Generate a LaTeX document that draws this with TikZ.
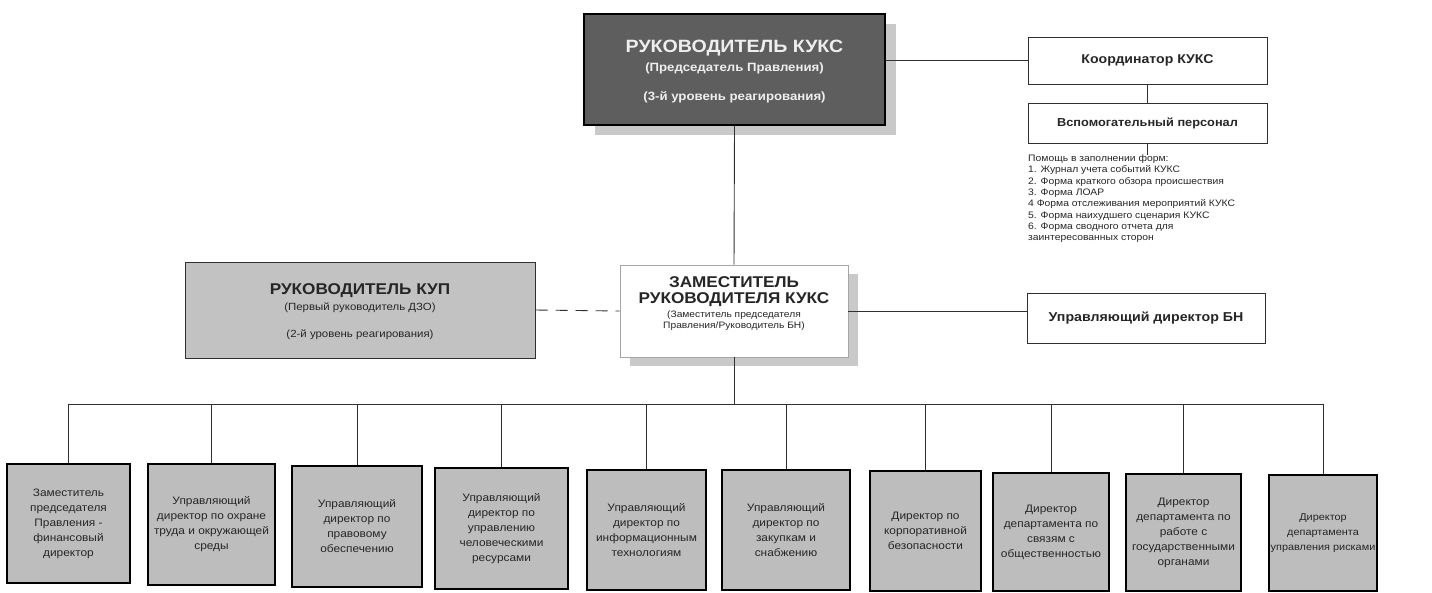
\documentclass[tikz,border=0pt]{standalone}
\usepackage{fontspec}
\setmainfont[FakeStretch=1.1]{Liberation Sans}
\usetikzlibrary{shadows,calc}
\definecolor{darkbox}{HTML}{5E5E5E}
\definecolor{toptext}{HTML}{EEEEEE}
\definecolor{shadowc}{HTML}{C9C9C9}
\definecolor{greybox}{HTML}{C2C2C2}
\definecolor{botbox}{HTML}{BDBDBD}
\definecolor{inkc}{HTML}{262626}
\definecolor{linec}{HTML}{303030}
\tikzset{
  boxbase/.style={rectangle, inner sep=0pt, anchor=center},
  topbox/.style={boxbase, fill=darkbox, draw=black, line width=1.8pt,
    drop shadow={shadow xshift=11pt, shadow yshift=-10pt, fill=shadowc, opacity=1}},
  whitebox/.style={boxbase, fill=white, draw=linec, line width=0.9pt},
  midbox/.style={boxbase, fill=white, draw=gray!70, line width=0.9pt,
    drop shadow={shadow xshift=10pt, shadow yshift=-9pt, fill=shadowc, opacity=1}},
  kupbox/.style={boxbase, fill=greybox, draw=linec, line width=1pt},
  subbox/.style={boxbase, fill=botbox, draw=black, line width=1.1pt, align=center,
    text=inkc, font=\fontsize{10.8}{15}\selectfont},
  conn/.style={draw=linec, line width=0.9pt},
  dashconn/.style={conn, dash pattern=on 12pt off 8pt},
  titletext/.style={inner sep=0pt, font=\bfseries\fontsize{17.8}{20}\selectfont, text=toptext},
  toptextsmall/.style={inner sep=0pt, font=\bfseries\fontsize{12}{14}\selectfont, text=toptext},
  bigtitle/.style={inner sep=0pt, font=\bfseries\fontsize{15.6}{19}\selectfont, text=inkc},
  smalltext/.style={inner sep=0pt, font=\fontsize{10.4}{13}\selectfont, text=inkc},
  midsmall/.style={inner sep=0pt, font=\fontsize{9.3}{11.5}\selectfont, text=inkc, align=center},
  boldlabel/.style={inner sep=0pt, font=\bfseries\fontsize{12.5}{14}\selectfont, text=inkc},
  listtext/.style={inner sep=0pt, font=\fontsize{9.4}{11.3}\selectfont, text=inkc, align=left, anchor=north west}
}
\begin{document}
\begin{tikzpicture}[x=1pt,y=-1pt]
\path[use as bounding box, fill=white] (0,0) rectangle (1432,592);

% top box
\node[topbox, minimum width=301pt, minimum height=111pt] (t) at (734.5,69.5) {};
\node[titletext] (t1) at ($(t.center)+(0,-21.5)$) {РУКОВОДИТЕЛЬ КУКС};
\node[toptextsmall] (t2) at ($(t.center)+(0,-1.5)$) {(Председатель Правления)};
\node[toptextsmall] (t3) at ($(t.center)+(0,27.5)$) {(3-й уровень реагирования)};

% right column
\node[whitebox, minimum width=239pt, minimum height=47pt] (k) at (1147.5,60.5) {};
\node[boldlabel, font=\bfseries\fontsize{12.8}{14}\selectfont] (k1) at (k.center) {Координатор КУКС};
\node[whitebox, minimum width=239pt, minimum height=40pt] (v) at (1147.5,123) {};
\node[boldlabel, font=\bfseries\fontsize{11.6}{14}\selectfont] (v1) at (v.center) {Вспомогательный персонал};
\node[listtext] (list) at (1028,154.5) {Помощь в заполнении форм:\\
1. Журнал учета событий КУКС\\
2. Форма краткого обзора происшествия\\
3. Форма ЛОАР\\
4 Форма отслеживания мероприятий КУКС\\
5. Форма наихудшего сценария КУКС\\
6. Форма сводного отчета для\\
заинтересованных сторон};

% left box
\node[kupbox, minimum width=350pt, minimum height=96pt] (l) at (360,310) {};
\node[bigtitle] (l1) at ($(l.center)+(0,-19)$) {РУКОВОДИТЕЛЬ КУП};
\node[smalltext] (l2) at ($(l.center)+(0,-2)$) {(Первый руководитель ДЗО)};
\node[smalltext] (l3) at ($(l.center)+(0,25)$) {(2-й уровень реагирования)};

% center box
\node[midbox, minimum width=228pt, minimum height=92pt] (c) at (734,311) {};
\node[bigtitle] (c1) at ($(c.center)+(0,-29)$) {ЗАМЕСТИТЕЛЬ};
\node[bigtitle] (c2) at ($(c.center)+(0,-11)$) {РУКОВОДИТЕЛЯ КУКС};
\node[midsmall] (c3) at ($(c.center)+(0,9.5)$) {(Заместитель председателя\\Правления/Руководитель БН)};

% right middle box
\node[whitebox, minimum width=238pt, minimum height=50pt] (u) at (1146,318) {};
\node[boldlabel, font=\bfseries\fontsize{12.9}{15}\selectfont] (u1) at (u.center) {Управляющий директор БН};

% bottom boxes
\node[subbox, minimum width=123pt, minimum height=119pt] (b1) at (68.5,523.5) {Заместитель\\председателя\\Правления -\\финансовый\\директор};
\node[subbox, minimum width=127pt, minimum height=121pt] (b2) at (211.5,524.5) {Управляющий\\директор по охране\\труда и окружающей\\среды};
\node[subbox, minimum width=130pt, minimum height=121pt] (b3) at (357,526.5) {Управляющий\\директор по\\правовому\\обеспечению};
\node[subbox, minimum width=133pt, minimum height=121pt] (b4) at (501.5,528.5) {Управляющий\\директор по\\управлению\\человеческими\\ресурсами};
\node[subbox, minimum width=119pt, minimum height=120pt] (b5) at (646.5,530) {Управляющий\\директор по\\информационным\\технологиям};
\node[subbox, minimum width=128pt, minimum height=120pt] (b6) at (786,530) {Управляющий\\директор по\\закупкам и\\снабжению};
\node[subbox, minimum width=111pt, minimum height=120pt] (b7) at (925.5,531) {Директор по\\корпоративной\\безопасности};
\node[subbox, minimum width=116pt, minimum height=118pt] (b8) at (1051,532) {Директор\\департамента по\\связям с\\общественностью};
\node[subbox, minimum width=115pt, minimum height=117pt] (b9) at (1183.5,532.5) {Директор\\департамента по\\работе с\\государственными\\органами};
\node[subbox, minimum width=108pt, minimum height=116pt, font=\fontsize{9.9}{15}\selectfont] (b10) at (1323,533) {Директор\\департамента\\управления рисками};

% connectors
\draw[conn] (t.south) -- (c.north);
\draw[conn] (k.west -| t.east) -- (k.west);
\draw[conn] (k.south) -- (v.north);
\draw[conn] (v.south) -- (v.south |- list.north);
\draw[dashconn] (l.east) -- (c.west);
\draw[conn] (c.east) -- (c.east -| u.west);
\coordinate (bus) at (0,404);
\draw[conn] (c.south) -- (c.south |- bus);
\draw[conn] (b1.north |- bus) -- (b10.north |- bus);
\foreach \b in {b1,b2,b3,b4,b5,b6,b7,b8,b9,b10}{
  \draw[conn] (\b.north |- bus) -- (\b.north);
}
\end{tikzpicture}
\end{document}
